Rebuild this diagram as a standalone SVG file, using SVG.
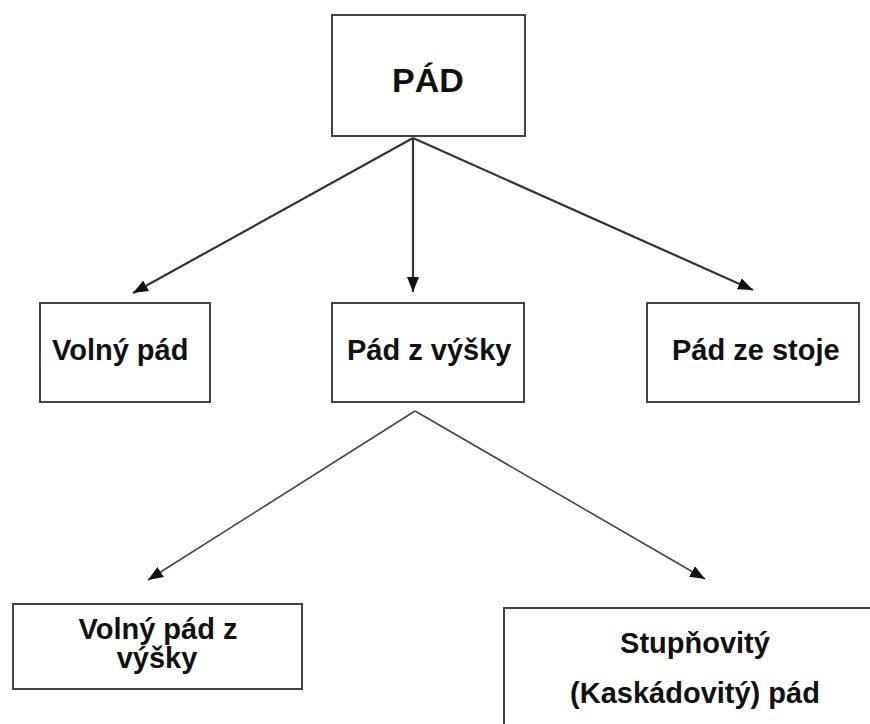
<svg xmlns="http://www.w3.org/2000/svg" width="870" height="724" viewBox="0 0 870 724">
<style>
.box{fill:#fff;stroke:#444;stroke-width:2}
.t{font-family:"Liberation Sans",Arial,sans-serif;font-weight:bold;font-size:29px;fill:#111}
.c1{stroke:#333;stroke-width:2.2;fill:none}
.c2{stroke:#444;stroke-width:1.6;fill:none}
</style>
<defs>
<marker id="ah" markerUnits="userSpaceOnUse" markerWidth="16" markerHeight="14" refX="15" refY="6" orient="auto">
<path d="M0,0 L15,6 L0,12 Z" fill="#111"/>
</marker>
</defs>
<rect width="870" height="724" fill="#fff"/>
<g id="connectors">
<line class="c1" x1="413" y1="138" x2="133" y2="293" marker-end="url(#ah)"/>
<line class="c1" x1="413" y1="138" x2="413" y2="292" marker-end="url(#ah)"/>
<line class="c1" x1="413" y1="138" x2="753" y2="290" marker-end="url(#ah)"/>
<line class="c2" x1="415" y1="411" x2="148" y2="580" marker-end="url(#ah)"/>
<line class="c2" x1="415" y1="411" x2="705" y2="579" marker-end="url(#ah)"/>
</g>
<g id="pad">
<rect class="box" x="332" y="15" width="193" height="121"/>
<text class="t" x="392" y="92" style="font-size:34px">PÁD</text>
</g>
<g id="volny-pad">
<rect class="box" x="40" y="303" width="170" height="99"/>
<text class="t" x="52" y="360">Volný pád</text>
</g>
<g id="pad-z-vysky">
<rect class="box" x="332" y="303" width="192" height="99"/>
<text class="t" x="347" y="360">Pád z výšky</text>
</g>
<g id="pad-ze-stoje">
<rect class="box" x="647" y="303" width="212" height="99"/>
<text class="t" x="672" y="360">Pád ze stoje</text>
</g>
<g id="volny-pad-z-vysky">
<rect class="box" x="13" y="604" width="289" height="85"/>
<text class="t" x="158" y="639" text-anchor="middle">Volný pád z</text>
<text class="t" x="157" y="668" text-anchor="middle">výšky</text>
</g>
<g id="stupnovity">
<rect class="box" x="504" y="608" width="400" height="200"/>
<text class="t" x="695" y="653" text-anchor="middle">Stupňovitý</text>
<text class="t" x="695" y="703" text-anchor="middle">(Kaskádovitý) pád</text>
</g>
</svg>
